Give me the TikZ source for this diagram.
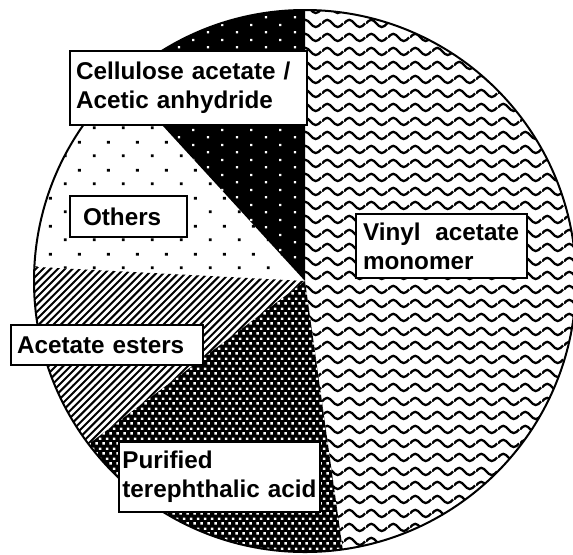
\documentclass[tikz,border=0pt]{standalone}
\usepackage{fontspec}
\setmainfont{Liberation Sans}
\usetikzlibrary{patterns}

% fill patterns of the pie
\pgfdeclarepatternformonly{vamwaves}{\pgfqpoint{0pt}{-5.25pt}}{\pgfqpoint{16.1pt}{5.25pt}}{\pgfqpoint{16.1pt}{10.5pt}}{%
  \pgfsetlinewidth{1.8pt}%
  \pgfpathmoveto{\pgfqpoint{0pt}{0pt}}%
  \pgfpathsine{\pgfqpoint{4.025pt}{2.9pt}}%
  \pgfpathcosine{\pgfqpoint{4.025pt}{-2.9pt}}%
  \pgfpathsine{\pgfqpoint{4.025pt}{-2.9pt}}%
  \pgfpathcosine{\pgfqpoint{4.025pt}{2.9pt}}%
  \pgfusepath{stroke}}
\pgfdeclarepatternformonly{sparsedots}{\pgfqpoint{0pt}{0pt}}{\pgfqpoint{21.75pt}{21pt}}{\pgfqpoint{21.75pt}{21pt}}{%
  \pgfpathrectangle{\pgfqpoint{4.5pt}{4.5pt}}{\pgfqpoint{2.2pt}{2.2pt}}%
  \pgfpathrectangle{\pgfqpoint{15.4pt}{15pt}}{\pgfqpoint{2.2pt}{2.2pt}}%
  \pgfusepath{fill}}
\pgfdeclarepatternformonly{celldots}{\pgfqpoint{0pt}{0pt}}{\pgfqpoint{21.75pt}{11pt}}{\pgfqpoint{21.75pt}{11pt}}{%
  \pgfpathrectangle{\pgfqpoint{3pt}{2pt}}{\pgfqpoint{1.8pt}{1.8pt}}%
  \pgfpathrectangle{\pgfqpoint{13.9pt}{7.5pt}}{\pgfqpoint{1.8pt}{1.8pt}}%
  \pgfusepath{fill}}
\pgfdeclarepatternformonly{ptadots}{\pgfqpoint{0pt}{0pt}}{\pgfqpoint{5.5pt}{7.5pt}}{\pgfqpoint{5.5pt}{7.5pt}}{%
  \pgfpathrectangle{\pgfqpoint{0.4pt}{0.4pt}}{\pgfqpoint{2pt}{2pt}}%
  \pgfpathrectangle{\pgfqpoint{3.15pt}{4.15pt}}{\pgfqpoint{2pt}{2pt}}%
  \pgfusepath{fill}}
\pgfdeclarepatternformonly{esterhatch}{\pgfqpoint{-1pt}{-1pt}}{\pgfqpoint{6.5pt}{6.5pt}}{\pgfqpoint{5.5pt}{5.5pt}}{%
  \pgfsetlinewidth{1.5pt}%
  \pgfpathmoveto{\pgfqpoint{0pt}{0pt}}%
  \pgfpathlineto{\pgfqpoint{5.6pt}{5.6pt}}%
  \pgfusepath{stroke}}

\tikzset{every picture/.style={line width=0.75pt}}

\begin{document}
\begin{tikzpicture}[x=0.75pt,y=0.75pt,yscale=-1,xscale=1,
  lbl/.style={draw, line width=1.5pt, fill=white, anchor=north west, align=left,
    font=\bfseries\fontsize{18.2}{21.8}\selectfont, inner ysep=0pt}]
	\useasboundingbox (0,0) rectangle (573,554);
	\coordinate (c) at (305,281);
	%Shape: Pie wedge, vinyl acetate monomer
	\fill [pattern=vamwaves] (c) -- ++(-90:271) arc [start angle=-90, end angle=82, radius=271] -- cycle ;
	%Shape: Pie wedge, purified terephthalic acid
	\path [preaction={fill=black}, pattern=ptadots, pattern color=white] (c) -- ++(82:271) arc [start angle=82, end angle=143, radius=271] -- cycle ;
	%Shape: Pie wedge, acetate esters
	\fill [pattern=esterhatch] (c) -- ++(143:271) arc [start angle=143, end angle=183, radius=271] -- cycle ;
	%Shape: Pie wedge, others
	\fill [pattern=sparsedots] (c) -- ++(183:271) arc [start angle=183, end angle=227.5, radius=271] -- cycle ;
	%Shape: Pie wedge, cellulose acetate
	\path [preaction={fill=black}, pattern=celldots, pattern color=white] (c) -- ++(227.5:271) arc [start angle=227.5, end angle=270, radius=271] -- cycle ;
	%Shape: Circle
	\draw [line width=1.5pt] (c) circle [radius=271] ;

	% Text Node
	\node [lbl, inner xsep=4.5pt, text width=168.75pt, minimum height=55.5pt] (cellacet) at (69,50) {Cellulose acetate /\\Acetic anhydride};
	% Text Node
	\node [lbl, inner xsep=9.75pt, text width=68.25pt, minimum height=30.75pt] (others) at (69,195) {Others};
	% Text Node
	\node [lbl, inner xsep=5.25pt, text width=117.75pt, minimum height=48pt] (vam) at (355,213) {Vinyl\hspace{0.28em} acetate\\monomer};
	% Text Node
	\node [lbl, inner xsep=4.5pt, text width=135pt, minimum height=30pt] (esters) at (10,324) {Acetate esters};
	% Text Node
	\node [lbl, inner xsep=2.5pt, text width=146pt, minimum height=52.5pt] (pta) at (118,441) {Purified\\terephthalic acid};
\end{tikzpicture}
\end{document}
